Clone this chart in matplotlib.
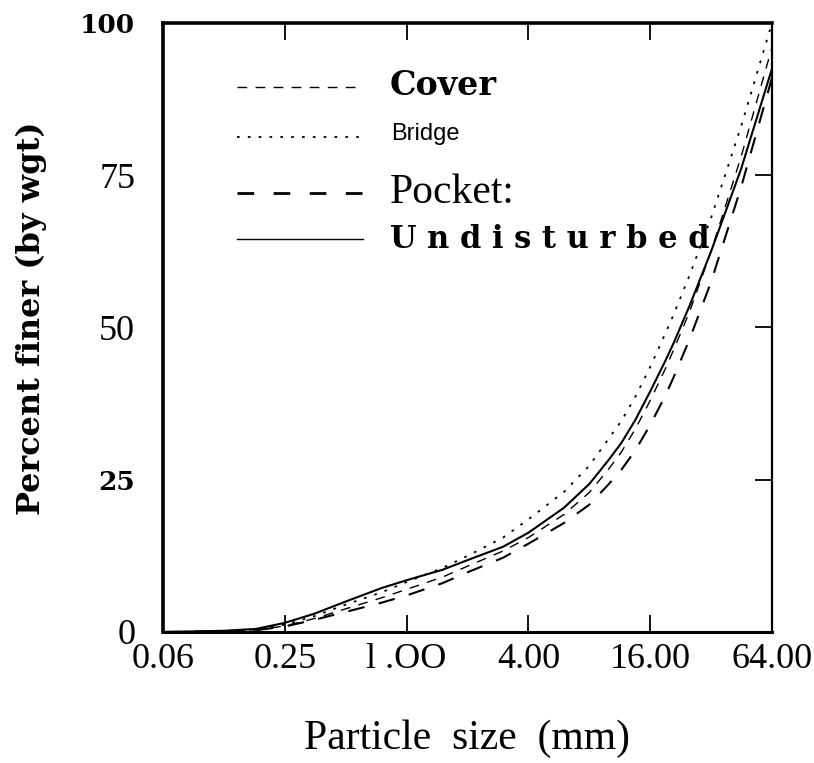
import numpy as np
import matplotlib.pyplot as plt

plt.rcParams.update({'font.family': 'Liberation Serif'})

# particle size (mm) and percent finer for each sample
size_mm = [0.0625, 0.125, 0.18, 0.25, 0.35, 0.5, 0.75, 1.0, 1.5, 2.0, 3.0,
           4.0, 6.0, 8.0, 10.0, 11.5, 13.5, 16.0, 19.0, 21.0, 25.0, 32.0,
           45.0, 64.0]
cover = [0.0, 0.1, 0.3, 1.0, 2.2, 3.8, 5.6, 7.0, 9.0, 10.8, 13.3,
         15.5, 19.3, 22.9, 26.8, 29.5, 33.3, 38.0, 43.2, 46.5, 52.5, 62.5,
         78.0, 96.0]
bridge = [0.0, 0.1, 0.4, 1.2, 2.6, 4.5, 6.5, 8.2, 10.5, 12.5, 15.5,
          18.5, 23.0, 27.3, 31.8, 34.6, 38.6, 43.5, 49.0, 52.3, 58.5, 68.0,
          83.0, 100.0]
pocket = [0.0, 0.1, 0.3, 0.9, 2.0, 3.3, 4.8, 6.0, 8.0, 9.8, 12.2,
          14.5, 17.9, 20.9, 24.3, 26.6, 29.8, 34.0, 38.8, 42.0, 48.0, 57.5,
          73.0, 91.0]
undisturbed = [0.0, 0.2, 0.5, 1.5, 3.0, 5.0, 7.2, 8.5, 10.2, 11.8, 14.0,
               16.3, 20.4, 24.3, 28.3, 31.0, 34.8, 39.5, 44.5, 47.6, 53.5,
               62.5, 76.0, 92.5]

xticks = [0.0625, 0.25, 1.0, 4.0, 16.0, 64.0]
xtick_labels = ['0.06', '0.25', 'l .OO', '4.00', '16.00', '64.00']
yticks = [0, 25, 50, 75, 100]
ytick_labels = ['0', '25', '50', '75', '100']

fig = plt.figure(figsize=(8.14, 7.63), dpi=100)
ax = fig.add_axes([0.2002, 0.1717, 0.7482, 0.7982])

ax.plot(size_mm, cover, color='black', lw=1.0, dashes=(7, 6))
ax.plot(size_mm, bridge, color='black', lw=1.3, dashes=(1.5, 4.5))
ax.plot(size_mm, pocket, color='black', lw=1.5, dashes=(8, 7))
ax.plot(size_mm, undisturbed, color='black', lw=1.5)

ax.set_xscale('log', base=2)
ax.set_xlim(0.0625, 64)
ax.set_ylim(0, 100)
ax.set_xticks(xticks)
ax.set_xticklabels(xtick_labels, fontsize=26)
ax.minorticks_off()
ax.set_yticks(yticks)
ax.set_yticklabels(ytick_labels, fontsize=26)
for lab in ax.get_yticklabels():
    if lab.get_text() in ('25', '100'):
        lab.set_fontweight('bold')
        lab.set_family('DejaVu Serif')
        lab.set_fontsize(19)
ax.tick_params(direction='in', length=12, width=1.3, top=True, right=True)
ax.tick_params(axis='y', left=False, pad=20)
ax.tick_params(axis='x', pad=8)

for side in ['left', 'top']:
    ax.spines[side].set_linewidth(2.6)
ax.spines['bottom'].set_linewidth(2.2)
ax.spines['right'].set_linewidth(1.6)

ax.set_xlabel('Particle  size  (mm)', fontsize=30, labelpad=31)
ax.set_ylabel('Percent finer (by wgt)', fontsize=23, fontweight='bold',
              family='DejaVu Serif')
ax.yaxis.set_label_coords(-0.19, 0.515)

# legend drawn by hand
ax.plot([0.122, 0.328], [0.895, 0.895], transform=ax.transAxes,
        color='black', lw=1.0, dashes=(7, 6))
ax.plot([0.122, 0.328], [0.812, 0.812], transform=ax.transAxes,
        color='black', lw=1.3, dashes=(1.5, 4.5))
ax.plot([0.122, 0.328], [0.720, 0.720], transform=ax.transAxes,
        color='black', lw=2.0, dashes=(6, 7))
ax.plot([0.122, 0.328], [0.645, 0.645], transform=ax.transAxes,
        color='black', lw=1.0)
ax.text(0.372, 0.897, 'Cover', transform=ax.transAxes, fontsize=24,
        fontweight='bold', family='DejaVu Serif', va='center')
ax.text(0.374, 0.818, 'Bridge', transform=ax.transAxes, fontsize=17,
        family='Liberation Sans', va='center')
ax.text(0.372, 0.722, 'Pocket:', transform=ax.transAxes, fontsize=30,
        va='center')
ax.text(0.372, 0.645, 'U n d i s t u r b e d', transform=ax.transAxes,
        fontsize=22, fontweight='bold', family='DejaVu Serif', va='center')

plt.savefig('out.png', dpi=100)
